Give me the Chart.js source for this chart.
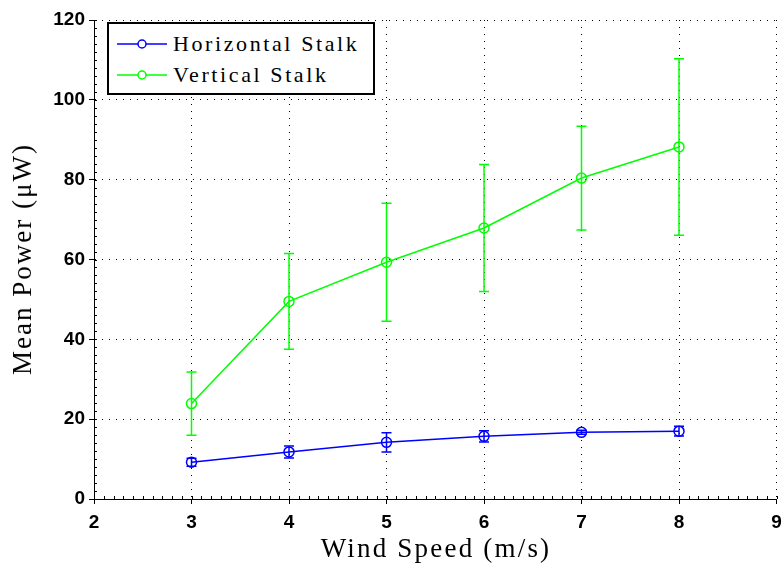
<!DOCTYPE html>
<html>
<head>
<meta charset="utf-8">
<script src="https://cdn.jsdelivr.net/npm/chart.js@4.4.1/dist/chart.umd.min.js"></script>
<style>
    body { margin: 0; background: #fff; }
    #wrap { position: relative; width: 783px; height: 564px; }
    .titulo { position: absolute; font-family: 'Liberation Serif', serif; font-size: 27px; letter-spacing: 2.2px; color: #000; white-space: nowrap; }
    #tituloX { left: 94px; width: 684px; top: 533px; text-align: center; line-height: 30px; }
    #tituloY { left: 22px; top: 259px; transform: translate(-50%, -50%) rotate(-90deg); line-height: 30px; letter-spacing: 2px; }
    #legenda { position: absolute; left: 107px; top: 22px; width: 268px; height: 73px; box-sizing: border-box; border: 2px solid #000; background: #fff; font-family: 'Liberation Serif', serif; font-size: 22px; letter-spacing: 2.6px; }
    #legenda .item { position: absolute; left: 8px; height: 24px; line-height: 24px; white-space: nowrap; }
    #legenda svg { position: absolute; left: 0; top: 6px; }
    #legenda span { position: absolute; left: 56px; top: 0; }
</style>
</head>
<body>
<div id="wrap">
    <canvas id="GraficoPotencia" width="783" height="564"></canvas>
    <div class="titulo" id="tituloX">Wind Speed (m/s)</div>
    <div class="titulo" id="tituloY">Mean Power (μW)</div>
    <div id="legenda"></div>
</div>
<script>
var velocidades = [3, 4, 5, 6, 7, 8];
var horizontalMedia = [9.2, 11.8, 14.2, 15.7, 16.7, 17.0];
var horizontalErro = [1.0, 1.5, 2.4, 1.4, 0.5, 1.2];
var verticalMedia = [23.9, 49.5, 59.3, 67.9, 80.4, 88.2];
var verticalErro = [7.9, 12.0, 14.8, 15.9, 13.0, 22.1];
var rotulos = ['Horizontal Stalk', 'Vertical Stalk'];
var cores = ['#0000ff', '#00ff00'];

function pontos(medias) {
    return velocidades.map(function (v, i) { return { x: v, y: medias[i] }; });
}

// barras de erro desenhadas pelas escalas do grafico
var barrasErro = {
    id: 'barrasErro',
    afterDatasetsDraw: function (chart) {
        var ctx = chart.ctx;
        var sx = chart.scales.x, sy = chart.scales.y;
        chart.data.datasets.forEach(function (ds) {
            ctx.save();
            ctx.strokeStyle = ds.borderColor;
            ctx.lineWidth = 1.5;
            ds.data.forEach(function (p, i) {
                var x = sx.getPixelForValue(p.x);
                var topo = sy.getPixelForValue(p.y + ds.erros[i]);
                var base = sy.getPixelForValue(p.y - ds.erros[i]);
                ctx.beginPath();
                ctx.moveTo(x, topo); ctx.lineTo(x, base);
                ctx.moveTo(x - 5, topo); ctx.lineTo(x + 5, topo);
                ctx.moveTo(x - 5, base); ctx.lineTo(x + 5, base);
                ctx.stroke();
            });
            ctx.restore();
        });
    }
};

// pequenos tracos (minor ticks) nos eixos
var tracosMenores = {
    id: 'tracosMenores',
    afterDraw: function (chart) {
        var ctx = chart.ctx, area = chart.chartArea;
        var sx = chart.scales.x, sy = chart.scales.y;
        ctx.save();
        ctx.strokeStyle = '#000';
        ctx.lineWidth = 1;
        ctx.beginPath();
        for (var v = 0; v <= 120; v += 2) {
            var y = Math.round(sy.getPixelForValue(v)) + 0.5;
            ctx.moveTo(area.left, y); ctx.lineTo(area.left + 3, y);
        }
        for (var k = 20; k <= 90; k++) {
            var x = Math.round(sx.getPixelForValue(k / 10)) + 0.5;
            ctx.moveTo(x, area.bottom); ctx.lineTo(x, area.bottom - 3);
        }
        ctx.stroke();
        ctx.restore();
    }
};

var ctx = document.getElementById('GraficoPotencia').getContext('2d');
var grafico = new Chart(ctx, {
    type: 'line',
    data: {
        datasets: [{
            label: rotulos[0],
            data: pontos(horizontalMedia),
            erros: horizontalErro,
            borderColor: cores[0],
            borderWidth: 1.5,
            pointRadius: 5,
            pointBorderWidth: 1.5,
            pointBackgroundColor: 'rgba(0,0,0,0)',
            pointBorderColor: cores[0],
            tension: 0
        }, {
            label: rotulos[1],
            data: pontos(verticalMedia),
            erros: verticalErro,
            borderColor: cores[1],
            borderWidth: 1.5,
            pointRadius: 5,
            pointBorderWidth: 1.5,
            pointBackgroundColor: 'rgba(0,0,0,0)',
            pointBorderColor: cores[1],
            tension: 0
        }]
    },
    options: {
        responsive: false,
        animation: false,
        layout: { padding: { top: 20, right: 6, left: 0, bottom: 0 } },
        plugins: {
            legend: { display: false },
            tooltip: { enabled: false }
        },
        scales: {
            x: {
                type: 'linear',
                min: 2,
                max: 9,
                ticks: {
                    stepSize: 1,
                    color: '#000',
                    padding: 7,
                    font: { family: "'Liberation Sans', Arial, sans-serif", size: 19, weight: 'bold' }
                },
                grid: { color: '#000', lineWidth: 1, tickLength: 5, tickColor: '#000' },
                border: { display: true, color: '#000', width: 1, dash: [1, 6] },
                afterFit: function (scale) {
                    scale.height = 65;
                    scale.paddingLeft = 0;
                    scale.paddingRight = 0;
                }
            },
            y: {
                min: 0,
                max: 120,
                ticks: {
                    stepSize: 20,
                    color: '#000',
                    padding: 4,
                    font: { family: "'Liberation Sans', Arial, sans-serif", size: 19, weight: 'bold' }
                },
                grid: { color: '#000', lineWidth: 1, tickLength: 5, tickColor: '#000' },
                border: { display: true, color: '#000', width: 1, dash: [1, 6] },
                afterFit: function (scale) {
                    scale.width = 94;
                    scale.paddingTop = 0;
                    scale.paddingBottom = 0;
                }
            }
        }
    },
    plugins: [barrasErro, tracosMenores]
});

// legenda em HTML montada a partir dos datasets
var html = '';
grafico.data.datasets.forEach(function (ds, i) {
    html += '<div class="item" style="top:' + (8 + i * 31) + 'px">' +
        '<svg width="52" height="12"><line x1="0" y1="6" x2="50" y2="6" stroke="' + ds.borderColor + '" stroke-width="1.5"/>' +
        '<circle cx="25" cy="6" r="4" fill="#fff" stroke="' + ds.borderColor + '" stroke-width="1.5"/></svg>' +
        '<span>' + ds.label + '</span></div>';
});
document.getElementById('legenda').innerHTML = html;
</script>
</body>
</html>
